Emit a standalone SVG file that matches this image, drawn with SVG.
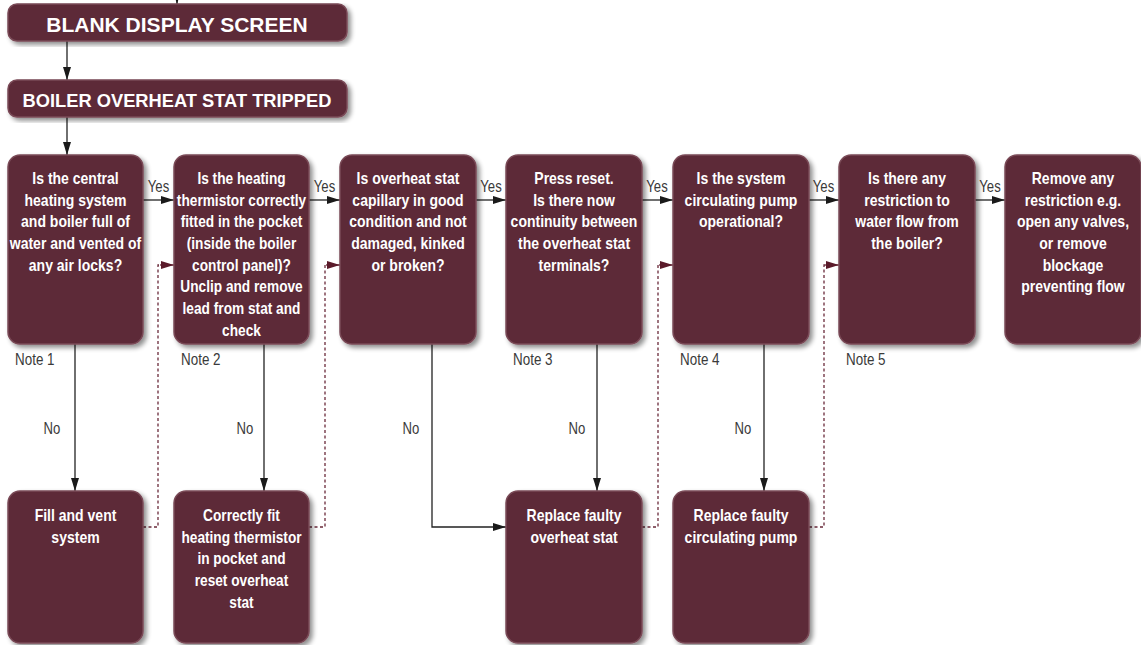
<svg xmlns="http://www.w3.org/2000/svg" width="1141" height="645" viewBox="0 0 1141 645">
  <style>
    .box { fill: #5d2c39; stroke: #7a4a57; stroke-width: 1.5; filter: url(#shadow); }
    .hdr { font-family: "Liberation Sans", Arial, sans-serif; font-weight: bold; fill: #ffffff; text-anchor: middle; }
    .txt { font-family: "Liberation Sans", Arial, sans-serif; font-weight: bold; font-size: 16.3px; fill: #ffffff; text-anchor: middle; }
    .lbl { font-family: "Liberation Sans", Arial, sans-serif; font-size: 16px; fill: #3a3a3a; }
    .mid { text-anchor: middle; }
    .solid { fill: none; stroke: #222222; stroke-width: 1.3; marker-end: url(#arrow); }
    .dash { fill: none; stroke: #6a2a3a; stroke-width: 1.3; stroke-dasharray: 3 2.5; }
    .dashend { fill: none; stroke: #6a2a3a; stroke-width: 1.3; marker-end: url(#arrowM); }
  </style>
  <defs>
    <filter id="shadow" x="-10%" y="-10%" width="125%" height="125%">
      <feGaussianBlur in="SourceAlpha" stdDeviation="2.5"/>
      <feOffset dx="3" dy="3" result="b"/>
      <feComponentTransfer><feFuncA type="linear" slope="0.45"/></feComponentTransfer>
      <feMerge><feMergeNode/><feMergeNode in="SourceGraphic"/></feMerge>
    </filter>
    <marker id="arrow" viewBox="0 0 13 8" refX="13" refY="4" markerWidth="13" markerHeight="8" markerUnits="userSpaceOnUse" orient="auto">
      <path d="M0,0 L13,4 L0,8 Z" fill="#1a1a1a"/>
    </marker>
    <marker id="arrowM" viewBox="0 0 13 8" refX="13" refY="4" markerWidth="13" markerHeight="8" markerUnits="userSpaceOnUse" orient="auto">
      <path d="M0,0 L13,4 L0,8 Z" fill="#5a1a2a"/>
    </marker>
  </defs>

  <rect width="1141" height="645" fill="#ffffff"/>

  <!-- connectors -->
  <g id="connectors">
    <path class="solid" d="M177,-6 V4"/>
    <path class="solid" d="M67,41 V80"/>
    <path class="solid" d="M67,117 V155"/>
    <!-- yes chain -->
    <path class="solid" d="M143,200 H174"/>
    <path class="solid" d="M309,200 H340"/>
    <path class="solid" d="M476,200 H506"/>
    <path class="solid" d="M642,200 H673"/>
    <path class="solid" d="M809,200 H839"/>
    <path class="solid" d="M975,200 H1005"/>
    <!-- no branches -->
    <path class="solid" d="M75,344 V491"/>
    <path class="solid" d="M264,344 V491"/>
    <path class="solid" d="M432,344 V527 H506"/>
    <path class="solid" d="M597,344 V491"/>
    <path class="solid" d="M764,344 V491"/>
    <!-- return paths -->
    <path class="dash" d="M143,527 H158 V265 H162"/>
    <path class="dashend" d="M160,265 H174"/>
    <path class="dash" d="M309,527 H325 V265 H328"/>
    <path class="dashend" d="M326,265 H340"/>
    <path class="dash" d="M642,527 H658 V265 H661"/>
    <path class="dashend" d="M659,265 H673"/>
    <path class="dash" d="M809,527 H824 V265 H827"/>
    <path class="dashend" d="M825,265 H839"/>
    <!-- labels (condensed by horizontal scale) -->
    <g transform="translate(158.5 0) scale(0.82 1)"><text class="lbl mid" y="192">Yes</text></g>
    <g transform="translate(324.5 0) scale(0.82 1)"><text class="lbl mid" y="192">Yes</text></g>
    <g transform="translate(491 0) scale(0.82 1)"><text class="lbl mid" y="192">Yes</text></g>
    <g transform="translate(657 0) scale(0.82 1)"><text class="lbl mid" y="192">Yes</text></g>
    <g transform="translate(823.5 0) scale(0.82 1)"><text class="lbl mid" y="192">Yes</text></g>
    <g transform="translate(990 0) scale(0.82 1)"><text class="lbl mid" y="192">Yes</text></g>
    <g transform="translate(52 0) scale(0.82 1)"><text class="lbl mid" y="434">No</text></g>
    <g transform="translate(245 0) scale(0.82 1)"><text class="lbl mid" y="434">No</text></g>
    <g transform="translate(411 0) scale(0.82 1)"><text class="lbl mid" y="434">No</text></g>
    <g transform="translate(577 0) scale(0.82 1)"><text class="lbl mid" y="434">No</text></g>
    <g transform="translate(743 0) scale(0.82 1)"><text class="lbl mid" y="434">No</text></g>
    <g transform="translate(15 0) scale(0.84 1)"><text class="lbl" y="365">Note 1</text></g>
    <g transform="translate(181 0) scale(0.84 1)"><text class="lbl" y="365">Note 2</text></g>
    <g transform="translate(513 0) scale(0.84 1)"><text class="lbl" y="365">Note 3</text></g>
    <g transform="translate(680 0) scale(0.84 1)"><text class="lbl" y="365">Note 4</text></g>
    <g transform="translate(846 0) scale(0.84 1)"><text class="lbl" y="365">Note 5</text></g>
  </g>

  <g id="blank-display">
    <rect class="box" x="8" y="4" width="339" height="37" rx="9"/>
    <text class="hdr" x="177" y="32" font-size="21">BLANK DISPLAY SCREEN</text>
  </g>
  <g id="overheat-tripped">
    <rect class="box" x="8" y="80" width="339" height="37" rx="9"/>
    <text class="hdr" x="177" y="107" font-size="18.3">BOILER OVERHEAT STAT TRIPPED</text>
  </g>

  <g id="q-water">
    <rect class="box" x="8" y="155" width="135" height="189" rx="12"/>
    <g transform="translate(75.5 0) scale(0.86 1)">
      <text class="txt" y="184">Is the central</text>
      <text class="txt" y="205.7">heating system</text>
      <text class="txt" y="227.3">and boiler full of</text>
      <text class="txt" y="249">water and vented of</text>
      <text class="txt" y="270.7">any air locks?</text>
    </g>
  </g>
  <g id="q-thermistor">
    <rect class="box" x="174" y="155" width="135" height="189" rx="12"/>
    <g transform="translate(241.5 0) scale(0.84 1)">
      <text class="txt" y="184">Is the heating</text>
      <text class="txt" y="205.7">thermistor correctly</text>
      <text class="txt" y="227.3">fitted in the pocket</text>
      <text class="txt" y="249">(inside the boiler</text>
      <text class="txt" y="270.7">control panel)?</text>
      <text class="txt" y="292.3">Unclip and remove</text>
      <text class="txt" y="314">lead from stat and</text>
      <text class="txt" y="335.7">check</text>
    </g>
  </g>
  <g id="q-capillary">
    <rect class="box" x="340" y="155" width="136" height="189" rx="12"/>
    <g transform="translate(408 0) scale(0.86 1)">
      <text class="txt" y="184">Is overheat stat</text>
      <text class="txt" y="205.7">capillary in good</text>
      <text class="txt" y="227.3">condition and not</text>
      <text class="txt" y="249">damaged, kinked</text>
      <text class="txt" y="270.7">or broken?</text>
    </g>
  </g>
  <g id="q-continuity">
    <rect class="box" x="506" y="155" width="136" height="189" rx="12"/>
    <g transform="translate(574 0) scale(0.86 1)">
      <text class="txt" y="184">Press reset.</text>
      <text class="txt" y="205.7">Is there now</text>
      <text class="txt" y="227.3">continuity between</text>
      <text class="txt" y="249">the overheat stat</text>
      <text class="txt" y="270.7">terminals?</text>
    </g>
  </g>
  <g id="q-pump">
    <rect class="box" x="673" y="155" width="136" height="189" rx="12"/>
    <g transform="translate(741 0) scale(0.86 1)">
      <text class="txt" y="184">Is the system</text>
      <text class="txt" y="205.7">circulating pump</text>
      <text class="txt" y="227.3">operational?</text>
    </g>
  </g>
  <g id="q-restriction">
    <rect class="box" x="839" y="155" width="136" height="189" rx="12"/>
    <g transform="translate(907 0) scale(0.86 1)">
      <text class="txt" y="184">Is there any</text>
      <text class="txt" y="205.7">restriction to</text>
      <text class="txt" y="227.3">water flow from</text>
      <text class="txt" y="249">the boiler?</text>
    </g>
  </g>
  <g id="remove-restriction">
    <rect class="box" x="1005" y="155" width="136" height="189" rx="12"/>
    <g transform="translate(1073 0) scale(0.86 1)">
      <text class="txt" y="184">Remove any</text>
      <text class="txt" y="205.7">restriction e.g.</text>
      <text class="txt" y="227.3">open any valves,</text>
      <text class="txt" y="249">or remove</text>
      <text class="txt" y="270.7">blockage</text>
      <text class="txt" y="292.3">preventing flow</text>
    </g>
  </g>

  <g id="fill-vent">
    <rect class="box" x="8" y="491" width="135" height="152" rx="12"/>
    <g transform="translate(75.5 0) scale(0.86 1)">
      <text class="txt" y="521">Fill and vent</text>
      <text class="txt" y="542.7">system</text>
    </g>
  </g>
  <g id="fit-thermistor">
    <rect class="box" x="174" y="491" width="135" height="152" rx="12"/>
    <g transform="translate(241.5 0) scale(0.84 1)">
      <text class="txt" y="521">Correctly fit</text>
      <text class="txt" y="542.7">heating thermistor</text>
      <text class="txt" y="564.3">in pocket and</text>
      <text class="txt" y="586">reset overheat</text>
      <text class="txt" y="607.7">stat</text>
    </g>
  </g>
  <g id="replace-stat">
    <rect class="box" x="506" y="491" width="136" height="152" rx="12"/>
    <g transform="translate(574 0) scale(0.86 1)">
      <text class="txt" y="521">Replace faulty</text>
      <text class="txt" y="542.7">overheat stat</text>
    </g>
  </g>
  <g id="replace-pump">
    <rect class="box" x="673" y="491" width="136" height="152" rx="12"/>
    <g transform="translate(741 0) scale(0.86 1)">
      <text class="txt" y="521">Replace faulty</text>
      <text class="txt" y="542.7">circulating pump</text>
    </g>
  </g>
</svg>
